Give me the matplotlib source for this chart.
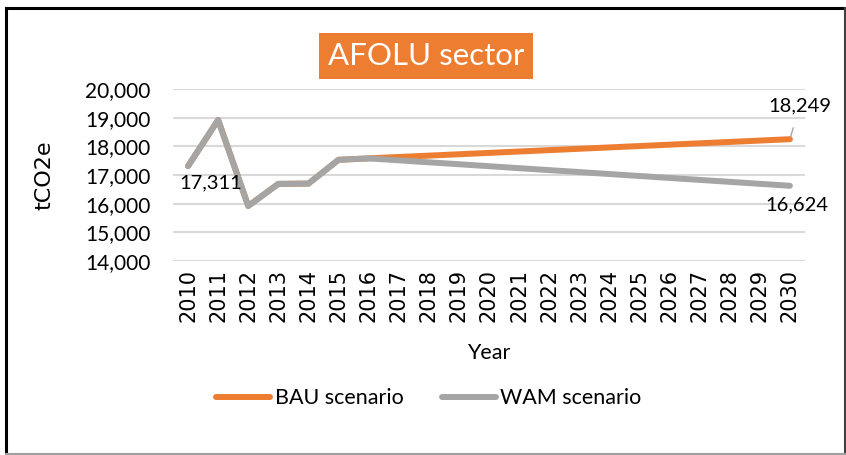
import matplotlib
matplotlib.use("Agg")
import matplotlib.pyplot as plt
from matplotlib.lines import Line2D

years = [str(y) for y in range(2010, 2031)]
bau = [17311, 18920, 15920, 16690, 16700, 17530, 17580, 17628, 17676, 17723, 17771,
       17819, 17867, 17915, 17962, 18010, 18058, 18106, 18153, 18201, 18249]
wam = [17311, 18920, 15920, 16690, 16700, 17530, 17580, 17512, 17443, 17375, 17307,
       17238, 17170, 17102, 17034, 16965, 16897, 16829, 16761, 16692, 16624]
y_ticks = [14000, 15000, 16000, 17000, 18000, 19000, 20000]

ORANGE = "#ED7D31"
GREY = "#A5A5A5"
LABEL_FONT = "Lato"

fig = plt.figure(figsize=(8.46, 4.55), dpi=100)
ax = fig.add_axes([0.2045, 0.4264, 0.747, 0.378])

x = list(range(len(years)))
ax.plot(x, bau, color=ORANGE, lw=4.3, solid_capstyle="round", label="BAU scenario", zorder=3)
ax.plot(x, wam, color=GREY, lw=4.3, solid_capstyle="round", label="WAM scenario", zorder=4)

ax.set_xlim(-0.5, len(years) - 0.5)
ax.set_ylim(14000, 20000)
ax.set_yticks(y_ticks)
ax.set_yticklabels([f"{v:,}" for v in y_ticks], family=LABEL_FONT, fontsize=15)
ax.set_xticks(x)
ax.set_xticklabels(years, rotation=90, family="DejaVu Sans", fontsize=15)
ax.tick_params(length=0)
ax.tick_params(axis="y", pad=16)
ax.tick_params(axis="x", pad=6)
ax.grid(axis="y", color="#D9D9D9", lw=1.5)
ax.set_axisbelow(True)
for side in ax.spines.values():
    side.set_visible(False)

ax.set_ylabel("tCO2e", family="DejaVu Sans", fontsize=16, labelpad=22)
ax.set_xlabel("Year", family=LABEL_FONT, fontsize=15.5, labelpad=15)

ax.annotate(f"{wam[0]:,}", (0, wam[0]), xytext=(16, -12), textcoords="offset points",
            ha="center", va="center", family=LABEL_FONT, fontsize=14.5, zorder=5)
ax.annotate(f"{bau[-1]:,}", (20, bau[-1]), xytext=(7, 24), textcoords="offset points",
            ha="center", va="center", family=LABEL_FONT, fontsize=14.5,
            arrowprops=dict(arrowstyle="-", color="#A5A5A5", lw=1, shrinkA=8, shrinkB=2))
ax.annotate(f"{wam[-1]:,}", (20, wam[-1]), xytext=(5, -14), textcoords="offset points",
            ha="center", va="center", family=LABEL_FONT, fontsize=14.5)

fig.text(0.5035, 0.877, "AFOLU sector", ha="center", va="center", color="white",
         family=LABEL_FONT, fontsize=22.5,
         bbox=dict(boxstyle="square,pad=0.28", facecolor=ORANGE, edgecolor="none"))

fig.legend(loc="center", bbox_to_anchor=(0.507, 0.125), ncol=2, frameon=False,
           prop=dict(family=LABEL_FONT, size=15.5), handlelength=2.5, handletextpad=0.2,
           columnspacing=1.8)

# chart frame
fig.add_artist(Line2D([0.007, 0.007], [0.002, 0.983], color="black", lw=2.2))
fig.add_artist(Line2D([0.007, 0.999], [0.983, 0.983], color="black", lw=2.2))
fig.add_artist(Line2D([0.9985, 0.9985], [0.002, 0.983], color="#404040", lw=1.5))
fig.add_artist(Line2D([0.007, 0.999], [0.003, 0.003], color="#A0A0A0", lw=1.5))

fig.savefig("out.png", dpi=100)
